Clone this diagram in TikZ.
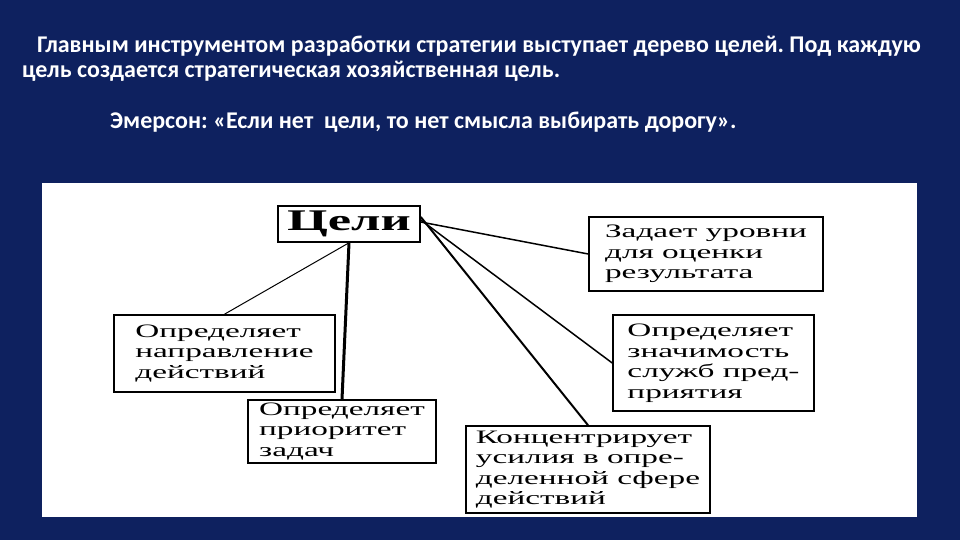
\documentclass[tikz,border=0pt]{standalone}
\usepackage{fontspec}
\usepackage{tikz}
\setmainfont{Carlito}
\newfontfamily\boxfont[FakeStretch=1.75]{Liberation Serif}
\definecolor{slidebg}{RGB}{14,33,95}
\newcommand{\bsize}[0] {\fontsize{19}{20.5}\selectfont}

\begin{document}
\frenchspacing
\begin{tikzpicture}[x=1pt,y=-1pt,
    goalbox/.style={shape=rectangle,draw=black,line width=1.6pt,fill=white,align=left,inner sep=0pt,font=\boxfont\bsize},
    introtext/.style={anchor=base west,text=white,inner sep=0pt,font=\bfseries\fontsize{24}{28}\selectfont}]
        \fill[slidebg] (0,0) rectangle (960,540);
        \fill[white] (42,183) rectangle (917,517);
        \useasboundingbox (0,0) rectangle (960,540);

        \node[introtext] (intro1) at (37,53) {Главным инструментом разработки стратегии выступает дерево целей. Под каждую};
        \node[introtext] (intro2) at (22,78) {цель создается стратегическая хозяйственная цель.};
        \node[introtext] (quote) at (110,129) {Эмерсон: «Если нет\ \ цели, то нет смысла выбирать дорогу».};

        \node[goalbox,minimum width=142,minimum height=36,font=\boxfont\bfseries\fontsize{30}{30}\selectfont] (goal) at (349,224) {Цели};
        \node[goalbox,minimum width=221,minimum height=77] (dir) at (224.5,353.5) {Определяет\\направление\\действий};
        \node[goalbox,minimum width=188,minimum height=63] (prio) at (342,431.5) {Определяет\\приоритет\\задач};
        \node[goalbox,minimum width=234,minimum height=74] (levels) at (706,254) {Задает уровни\\для оценки\\результата};
        \node[goalbox,minimum width=201,minimum height=96] (serv) at (713.5,363) {Определяет\\значимость\\служб пред-\\приятия};
        \node[goalbox,minimum width=244,minimum height=87] (focus) at (588,469.5) {Концентрирует\\усилия в опре-\\деленной сфере\\действий};

        %branches of goal
        \path[-, line width=1pt] (goal.south) edge (dir.north);
        \path[-, line width=3pt] (goal.south) edge (prio.north);

        \path[-, line width=1.5pt] ([yshift=2]goal.east) edge (levels.west);
        \path[-, line width=1.5pt] ([yshift=4]goal.east) edge (serv.west);
        \path[-, line width=2pt] ([yshift=7]goal.east) edge (focus.north);
\end{tikzpicture}
\end{document}
